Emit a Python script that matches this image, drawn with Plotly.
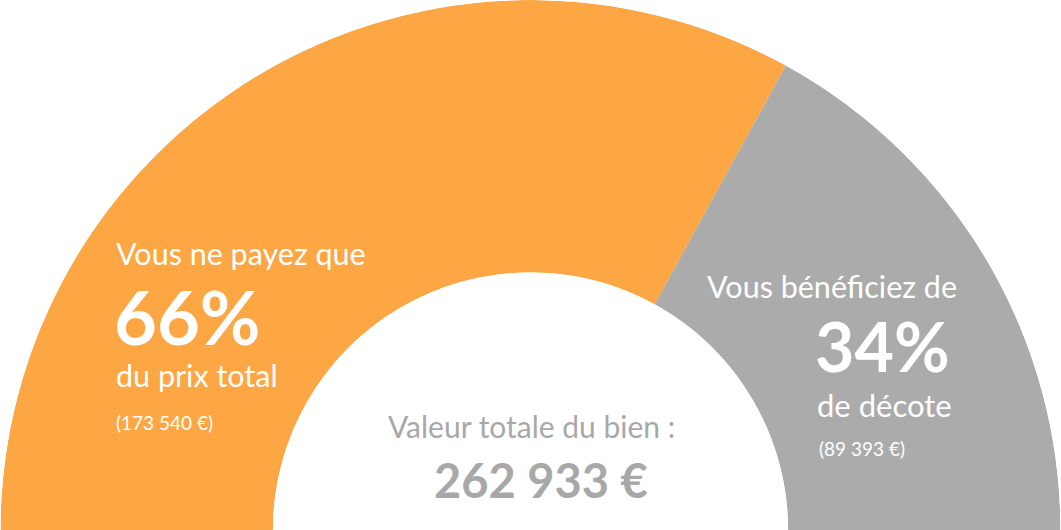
import plotly.graph_objects as go

# ---- data ----
segments = ["Vous payez", "Décote"]
amounts = [173540, 89393]
percents = [66, 34]
total_value = 262933
colors = ["#FDA644", "#ABABAB"]

W, H = 1061, 530
total = sum(amounts)

# half-circle gauge: angles from 180 (left) down to 0 (right)
thetas, widths = [], []
start = 180.0
for a in amounts:
    w = 180.0 * a / total
    thetas.append(start - w / 2)
    widths.append(w)
    start -= w

fig = go.Figure()
fig.add_trace(go.Barpolar(
    r=[1] * len(amounts),
    theta=thetas,
    width=widths,
    marker=dict(color=colors, line=dict(width=0)),
    hoverinfo="skip",
    showlegend=False,
))

def fr(s):
    return f"{s:,}".replace(",", " ")

def px(x):
    return x / W

def py(y):
    return 1 - y / H

FONT = "Lato"
ann = []
def add(text, x, y, size, color, xanchor="left", bold=False):
    t = f"<b>{text}</b>" if bold else text
    ann.append(dict(text=t, x=px(x), y=py(y), xref="paper", yref="paper",
                    xanchor=xanchor, yanchor="middle", showarrow=False,
                    font=dict(family=FONT, size=size, color=color)))

# left block (orange)
add("Vous ne payez que", 114, 253, 30.5, "white")
add(f"{percents[0]}%", 112, 316, 74, "white", bold=True)
add("du prix total", 114, 375, 30.5, "white")
add(f"({fr(amounts[0])} €)", 114, 422, 19, "white")

# right block (gray)
add("Vous bénéficiez de", 959, 286, 30.5, "white", xanchor="right")
add(f"{percents[1]}%", 813, 345, 68, "white", bold=True)
add("de décote", 815, 405, 31, "white")
add(f"({fr(amounts[1])} €)", 817, 448, 19, "white")

# center
add("Valeur totale du bien :", 531, 426, 30, "#A8A8A8", xanchor="center")
add(f"{fr(total_value)} €", 541, 480, 47, "#A8A8A8", xanchor="center", bold=True)

fig.update_layout(
    width=W, height=H,
    margin=dict(l=0, r=0, t=0, b=0),
    paper_bgcolor="white",
    plot_bgcolor="white",
    polar=dict(
        domain=dict(x=[0, 1], y=[0, 1]),
        sector=[0, 180],
        hole=0.486,
        bgcolor="white",
        bargap=0,
        radialaxis=dict(visible=False, range=[0, 1]),
        angularaxis=dict(visible=False, direction="counterclockwise", rotation=0),
    ),
    annotations=ann,
)

fig.write_html("out.html", config={"displayModeBar": False},
               post_script="document.body.style.margin='0';")
